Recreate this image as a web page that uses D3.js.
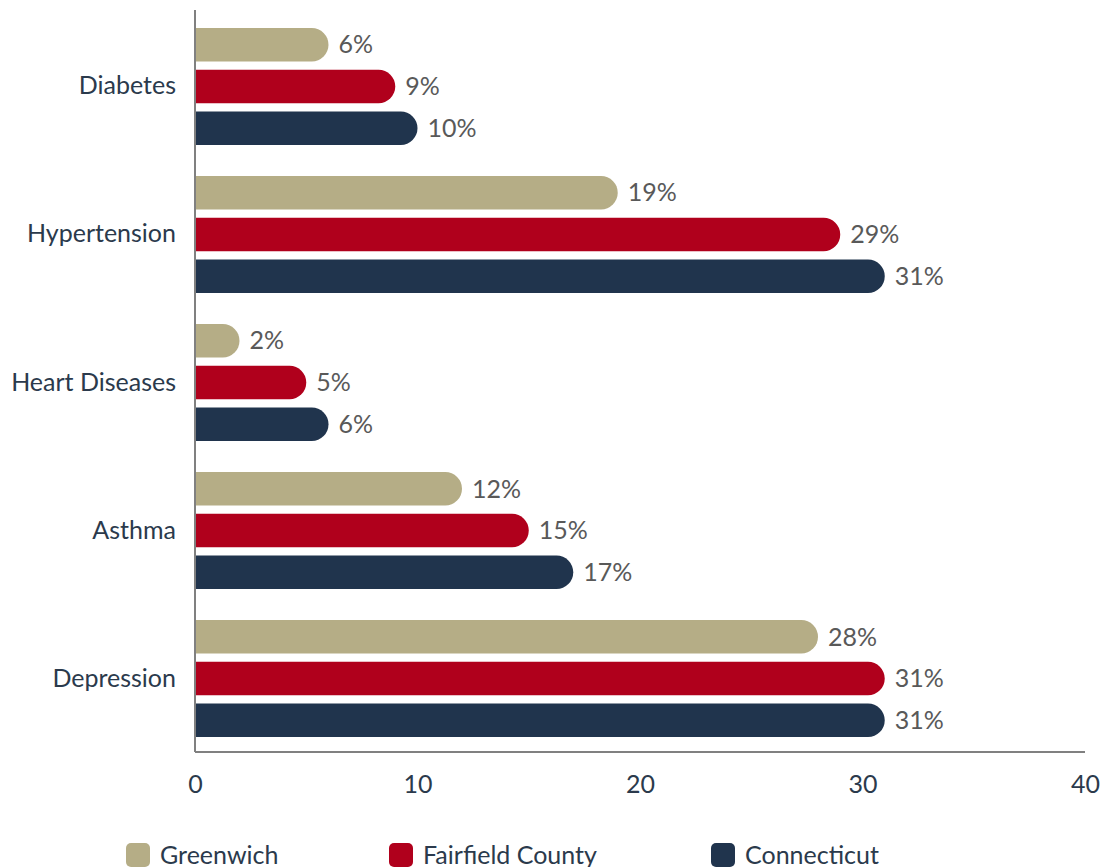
<!DOCTYPE html>
<html>
<head>
<meta charset="utf-8">
<script src="https://cdn.jsdelivr.net/npm/d3@7"></script>
<style>
  html, body { margin: 0; padding: 0; background: #fff; }
  svg { display: block; font-family: Lato, "Open Sans", sans-serif; }
</style>
</head>
<body>
<svg id="chart" width="1102" height="867"></svg>
<script>
// Prevalence of chronic conditions (%)
const categories = ["Diabetes", "Hypertension", "Heart Diseases", "Asthma", "Depression"];
const seriesNames = ["Greenwich", "Fairfield County", "Connecticut"];
const greenwich = [6, 19, 2, 12, 28];
const fairfield = [9, 29, 5, 15, 31];
const connecticut = [10, 31, 6, 17, 31];
const xTicks = [0, 10, 20, 30, 40];
const colors = ["#b5ad86", "#b0001c", "#20344d"];

const seriesValues = [greenwich, fairfield, connecticut];

const svg = d3.select("#chart");
const plotLeft = 195, plotRight = 1085, plotTop = 10, plotBottom = 752;
const fontSize = "25px";

const x = d3.scaleLinear().domain([0, 40]).range([plotLeft, plotRight]);
const y0 = d3.scaleBand().domain(categories).range([plotTop, plotBottom + 3])
  .paddingInner(0.21).paddingOuter(0.1216);
const y1 = d3.scaleBand().domain(seriesNames).range([0, y0.bandwidth()])
  .paddingInner(0.2).paddingOuter(0);

// bar with square left end and fully rounded right end
function barPath(x0, x1, yTop, h) {
  const r = Math.min(h / 2, x1 - x0);
  return `M${x0},${yTop}H${x1 - r}A${r},${r} 0 0 1 ${x1},${yTop + r}` +
         `V${yTop + h - r}A${r},${r} 0 0 1 ${x1 - r},${yTop + h}H${x0}Z`;
}

const rows = categories.map((c, i) => ({
  category: c,
  values: seriesNames.map((s, j) => ({ series: s, value: seriesValues[j][i], color: colors[j] }))
}));

const groups = svg.append("g").selectAll("g").data(rows).join("g")
  .attr("transform", d => `translate(0,${y0(d.category)})`);

groups.selectAll("path").data(d => d.values).join("path")
  .attr("d", d => barPath(x(0) + 1, x(d.value), y1(d.series), y1.bandwidth()))
  .attr("fill", d => d.color);

groups.selectAll("text.val").data(d => d.values).join("text")
  .attr("class", "val")
  .attr("x", d => x(d.value) + 10)
  .attr("y", d => y1(d.series) + y1.bandwidth() / 2)
  .attr("dy", "0.35em")
  .attr("fill", "#595959")
  .style("font-size", fontSize)
  .text(d => d.value + "%");

// category axis
const yAxis = svg.append("g").attr("transform", `translate(${plotLeft},0)`)
  .call(d3.axisLeft(y0).tickSize(0).tickPadding(19));
yAxis.select(".domain").attr("stroke", "#808080").attr("stroke-width", 2)
  .attr("d", `M0,${plotTop}V${plotBottom}`);
yAxis.selectAll("text").attr("fill", "#2b3a4c").style("font-size", fontSize)
  .style("font-family", "Lato, sans-serif");

// value axis
const xAxis = svg.append("g").attr("transform", `translate(0,${plotBottom})`)
  .call(d3.axisBottom(x).tickValues(xTicks).tickSize(0).tickPadding(23));
xAxis.select(".domain").attr("stroke", "#808080").attr("stroke-width", 2)
  .attr("d", `M${plotLeft},0H${plotRight}`);
xAxis.selectAll("text").attr("fill", "#2b3a4c").style("font-size", fontSize)
  .style("font-family", "Lato, sans-serif");

// legend
const legendX = [126, 389, 711];
const legend = svg.append("g").selectAll("g").data(seriesNames).join("g")
  .attr("transform", (d, i) => `translate(${legendX[i]},843)`);
legend.append("rect").attr("width", 24).attr("height", 24).attr("rx", 5)
  .attr("fill", (d, i) => colors[i]);
legend.append("text").attr("x", 34).attr("y", 12).attr("dy", "0.35em")
  .attr("fill", "#2b3a4c").style("font-size", fontSize).text(d => d);
</script>
</body>
</html>
